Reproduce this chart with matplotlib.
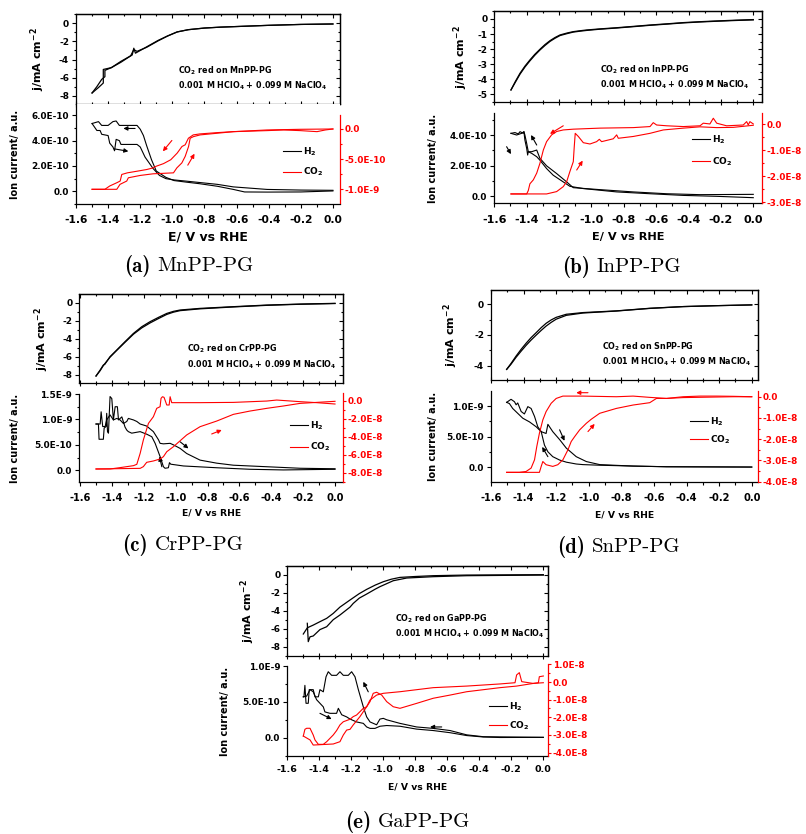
import numpy as np
import matplotlib
matplotlib.use('Agg')
import matplotlib.pyplot as plt
from matplotlib.ticker import MultipleLocator, FuncFormatter
from matplotlib.lines import Line2D

plt.rcParams.update({
    'font.family': 'DejaVu Sans', 'font.weight': 'bold', 'axes.labelweight': 'bold',
    'mathtext.fontset': 'dejavusans', 'mathtext.default': 'bf',
    'axes.unicode_minus': False, 'axes.linewidth': 0.9, 'lines.linewidth': 0.8,
})

# ---------------- data : (a) MnPP-PG ----------------
mn_cv1_E = [-1.50, -1.47, -1.44, -1.42, -1.42, -1.38, -1.32, -1.25, -1.24, -1.23, -1.16, -1.09, -1.03, -0.97, -0.90, -0.80, -0.70, -0.55, -0.40, -0.20, 0.00]
mn_cv1_j = [-7.7, -7.0, -6.2, -5.9, -5.2, -4.9, -4.2, -3.5, -2.75, -3.3, -2.6, -1.9, -1.4, -0.95, -0.7, -0.52, -0.42, -0.32, -0.22, -0.12, -0.07]
mn_cv2_E = [0.00, -0.20, -0.40, -0.55, -0.70, -0.80, -0.90, -0.97, -1.03, -1.09, -1.16, -1.22, -1.24, -1.26, -1.32, -1.38, -1.43, -1.43, -1.46, -1.50]
mn_cv2_j = [-0.07, -0.12, -0.22, -0.32, -0.42, -0.52, -0.7, -0.95, -1.4, -1.95, -2.65, -3.1, -2.9, -3.6, -4.3, -4.9, -5.1, -6.6, -7.1, -7.7]
mn_h2n_E = [0.0, -0.2, -0.41, -0.55, -0.62, -0.72, -0.83, -0.91, -0.99, -1.04, -1.10, -1.13, -1.16, -1.18, -1.20, -1.22, -1.33, -1.35, -1.37, -1.40, -1.44, -1.46, -1.50]
mn_h2n = [0.03, -0.05, -0.06, -0.05, 0.15, 0.4, 0.6, 0.72, 0.85, 1.1, 1.6, 2.5, 3.6, 4.4, 4.9, 5.2, 5.2, 5.55, 5.5, 5.2, 5.2, 5.5, 5.35]
mn_h2p_E = [-1.50, -1.47, -1.45, -1.44, -1.40, -1.39, -1.37, -1.36, -1.35, -1.33, -1.32, -1.22, -1.20, -1.17, -1.12, -1.08, -1.04, -0.99, -0.91, -0.72, -0.62, -0.41, -0.20, 0.00]
mn_h2p = [5.35, 4.8, 4.8, 4.5, 4.4, 3.8, 3.5, 3.2, 4.1, 4.0, 3.7, 3.7, 3.5, 2.7, 1.8, 1.25, 1.0, 0.9, 0.8, 0.55, 0.35, 0.15, 0.1, 0.08]
mn_co2n_E = [0.00, -0.20, -0.41, -0.62, -0.72, -0.83, -0.87, -0.90, -0.92, -0.94, -0.97, -1.01, -1.055, -1.10, -1.12, -1.16, -1.22, -1.28, -1.315, -1.325, -1.345, -1.39, -1.42, -1.50]
mn_co2n = [0.0, -0.005, -0.016, -0.044, -0.06, -0.082, -0.098, -0.153, -0.262, -0.29, -0.40, -0.51, -0.574, -0.617, -0.645, -0.672, -0.70, -0.727, -0.754, -0.863, -0.89, -0.945, -1.0, -1.0]
mn_co2p_E = [-1.50, -1.346, -1.326, -1.284, -1.274, -1.20, -1.12, -0.993, -0.972, -0.941, -0.92, -0.899, -0.889, -0.868, -0.827, -0.723, -0.619, -0.411, -0.307, -0.203, -0.099, -0.047, 0.0]
mn_co2p = [-1.0, -1.0, -0.918, -0.863, -0.809, -0.77, -0.743, -0.727, -0.645, -0.563, -0.454, -0.29, -0.153, -0.126, -0.098, -0.071, -0.044, -0.027, -0.016, -0.027, -0.044, -0.016, 0.0]
mn_h2_unit, mn_co2_unit = 1e-10, 1e-9
mn_arrows = [('l', -1.232, 4.96e-10, -1.305, 4.96e-10), ('l', -1.357, 3.34e-10, -1.274, 3.16e-10),
             ('r', -1.003, -0.19e-9, -1.059, -0.37e-9), ('r', -0.904, -0.60e-9, -0.862, -0.41e-9)]

# ---------------- data : (b) InPP-PG ----------------
in_cv1_E = [-1.497, -1.47, -1.441, -1.41, -1.38, -1.35, -1.318, -1.287, -1.256, -1.225, -1.194, -1.15, -1.112, -1.07, -1.03, -0.95, -0.844, -0.74, -0.638, -0.532, -0.432, -0.33, -0.226, -0.11, 0.0]
in_cv1_j = [-4.71, -4.15, -3.6, -3.12, -2.72, -2.35, -2.01, -1.70, -1.44, -1.23, -1.06, -0.93, -0.84, -0.78, -0.73, -0.66, -0.58, -0.49, -0.40, -0.32, -0.24, -0.18, -0.13, -0.08, -0.04]
in_cv2_E = [0.0, -0.11, -0.226, -0.33, -0.432, -0.532, -0.638, -0.74, -0.844, -0.95, -1.03, -1.07, -1.112, -1.15, -1.194, -1.225, -1.256, -1.287, -1.318, -1.35, -1.38, -1.41, -1.441, -1.47, -1.497]
in_cv2_j = [-0.06, -0.10, -0.15, -0.20, -0.26, -0.34, -0.42, -0.51, -0.60, -0.68, -0.76, -0.81, -0.87, -0.97, -1.10, -1.28, -1.49, -1.76, -2.06, -2.41, -2.78, -3.18, -3.66, -4.2, -4.71]
in_h2a_E = [0.0, -0.329, -0.535, -0.741, -0.947, -1.112, -1.153, -1.215, -1.277, -1.318, -1.338, -1.369, -1.39, -1.40, -1.411, -1.417, -1.421, -1.441, -1.452, -1.472, -1.497]
in_h2a = [0.11, 0.09, 0.15, 0.27, 0.42, 0.55, 0.93, 1.48, 1.99, 2.48, 3.03, 2.92, 2.92, 3.47, 4.02, 4.24, 4.13, 4.24, 4.09, 4.18, 4.13]
in_h2b_E = [-1.497, -1.462, -1.431, -1.417, -1.411, -1.40, -1.394, -1.39, -1.369, -1.338, -1.318, -1.277, -1.236, -1.174, -1.133, -1.05, -0.844, -0.638, -0.432, -0.226, 0.0]
in_h2b = [4.13, 4.02, 4.13, 4.24, 3.69, 3.14, 2.70, 2.92, 2.81, 2.59, 2.36, 1.81, 1.37, 0.93, 0.64, 0.49, 0.27, 0.15, 0.04, -0.02, -0.11]
in_co2n_E = [0.0, -0.021, -0.031, -0.041, -0.062, -0.165, -0.226, -0.247, -0.268, -0.309, -0.329, -0.432, -0.535, -0.597, -0.618, -0.638, -0.741, -0.947, -1.112, -1.174, -1.215, -1.246, -1.277, -1.297, -1.318, -1.338, -1.359, -1.38, -1.39, -1.40, -1.497]
in_co2n = [0.01, 0.10, -0.03, 0.10, -0.03, -0.06, 0.04, 0.23, 0.01, 0.04, -0.06, -0.09, -0.06, -0.03, 0.06, -0.09, -0.13, -0.15, -0.19, -0.22, -0.28, -0.41, -0.67, -0.99, -1.50, -1.88, -2.14, -2.29, -2.55, -2.68, -2.68]
in_co2p_E = [-1.497, -1.277, -1.215, -1.174, -1.153, -1.133, -1.112, -1.106, -1.10, -1.081, -1.05, -1.009, -0.968, -0.951, -0.937, -0.865, -0.844, -0.834, -0.741, -0.638, -0.556, -0.432, -0.329, -0.226, -0.123, 0.0]
in_co2p = [-2.68, -2.68, -2.59, -2.40, -2.21, -1.82, -1.44, -0.86, -0.35, -0.47, -0.71, -0.76, -0.67, -0.58, -0.67, -0.56, -0.41, -0.54, -0.47, -0.35, -0.22, -0.15, -0.10, -0.13, -0.12, -0.04]
in_h2_unit, in_co2_unit = 1e-10, 1e-8
in_arrows = [('l', -1.524, 3.25e-10, -1.497, 2.76e-10), ('l', -1.338, 3.36e-10, -1.373, 4.02e-10),
             ('r', -1.174, -0.06e-8, -1.256, -0.37e-8), ('r', -1.091, -1.76e-8, -1.054, -1.40e-8)]

# ---------------- data : (c) CrPP-PG ----------------
cr_cv1_E = [-1.50, -1.474, -1.454, -1.445, -1.412, -1.37, -1.318, -1.265, -1.213, -1.161, -1.108, -1.056, -1.014, -0.972, -0.847, -0.638, -0.428, -0.219, 0.0]
cr_cv1_j = [-8.15, -7.48, -6.93, -6.85, -6.0, -5.26, -4.33, -3.41, -2.67, -2.11, -1.63, -1.19, -0.96, -0.81, -0.63, -0.44, -0.26, -0.15, -0.07]
cr_cv2_E = [0.0, -0.219, -0.428, -0.638, -0.847, -0.972, -1.014, -1.056, -1.108, -1.161, -1.213, -1.265, -1.318, -1.37, -1.412, -1.454, -1.474, -1.50]
cr_cv2_j = [-0.09, -0.17, -0.29, -0.47, -0.68, -0.88, -1.05, -1.3, -1.76, -2.25, -2.8, -3.5, -4.4, -5.3, -6.05, -6.98, -7.55, -8.15]
cr_h2a_E = [-1.50, -1.485, -1.481, -1.454, -1.449, -1.437, -1.433, -1.428, -1.422, -1.412, -1.401, -1.391, -1.38, -1.366, -1.359, -1.338, -1.318, -1.307, -1.297, -1.276, -1.223, -1.182, -1.15, -1.129, -1.098, -1.077, -1.067, -1.046, -1.039, -1.031, -0.951, -0.742, -0.533, -0.324, 0.0]
cr_h2a = [0.91, 0.91, 0.61, 0.61, 0.83, 0.86, 1.12, 0.76, 0.73, 1.45, 1.41, 0.99, 1.25, 1.25, 0.99, 1.05, 0.85, 0.79, 0.76, 0.73, 0.76, 0.71, 0.66, 0.53, 0.27, 0.07, 0.04, 0.05, 0.15, 0.12, 0.085, 0.05, 0.02, 0.007, 0.02]
cr_h2b_E = [-1.50, -1.474, -1.468, -1.458, -1.443, -1.433, -1.412, -1.391, -1.37, -1.349, -1.328, -1.307, -1.297, -1.265, -1.244, -1.223, -1.182, -1.140, -1.108, -1.098, -1.077, -1.035, -1.014, -0.972, -0.931, -0.847, -0.742, -0.638, -0.428, -0.219, 0.0]
cr_h2b = [0.91, 0.91, 1.15, 0.86, 0.86, 0.99, 1.09, 0.99, 1.02, 0.99, 0.92, 0.96, 1.02, 0.99, 0.96, 0.91, 0.87, 0.76, 0.60, 0.53, 0.52, 0.53, 0.50, 0.43, 0.33, 0.20, 0.14, 0.10, 0.07, 0.04, 0.03]
cr_co2n_E = [-1.50, -1.412, -1.349, -1.265, -1.244, -1.223, -1.203, -1.171, -1.14, -1.119, -1.098, -1.092, -1.083, -1.073, -1.056, -1.041, -1.035, -1.025, -0.847, -0.638, -0.428, -0.366, -0.219, -0.115, 0.0]
cr_co2n = [-7.59, -7.59, -7.44, -7.22, -7.07, -5.85, -4.37, -2.52, -1.78, -0.85, -0.67, 0.26, 0.44, 0.37, -0.48, -0.48, 0.44, -0.22, -0.22, -0.19, -0.04, 0.07, -0.11, -0.22, -0.37]
cr_co2p_E = [-1.50, -1.223, -1.203, -1.182, -1.14, -1.098, -1.077, -1.056, -1.014, -0.931, -0.847, -0.742, -0.638, -0.533, -0.428, -0.324, -0.219, -0.115, 0.0]
cr_co2p = [-7.59, -7.52, -7.33, -6.85, -6.70, -6.48, -6.22, -5.67, -5.11, -3.81, -2.89, -2.26, -1.52, -1.15, -0.85, -0.59, -0.30, -0.19, -0.07]
cr_h2_unit, cr_co2_unit = 1e-9, 1e-8
cr_arrows = [('l', -0.972, 0.56e-9, -0.92, 0.43e-9), ('l', -1.087, 0.07e-9, -1.102, 0.27e-9),
             ('r', -0.774, -3.70e-8, -0.711, -3.26e-8)]

# ---------------- data : (d) SnPP-PG ----------------
sn_cv1_E = [-1.504, -1.477, -1.446, -1.415, -1.385, -1.354, -1.323, -1.292, -1.262, -1.231, -1.2, -1.138, -1.036, -0.831, -0.626, -0.421, -0.215, 0.0]
sn_cv1_j = [-4.24, -3.85, -3.37, -2.93, -2.54, -2.17, -1.85, -1.52, -1.24, -1.02, -0.85, -0.65, -0.54, -0.43, -0.26, -0.15, -0.09, -0.04]
sn_cv2_E = [0.0, -0.215, -0.421, -0.626, -0.831, -1.036, -1.138, -1.2, -1.231, -1.262, -1.292, -1.323, -1.354, -1.385, -1.415, -1.446, -1.477, -1.504]
sn_cv2_j = [-0.04, -0.09, -0.15, -0.27, -0.44, -0.57, -0.72, -0.97, -1.18, -1.42, -1.7, -2.01, -2.33, -2.68, -3.05, -3.45, -3.9, -4.24]
sn_h2a_E = [-1.504, -1.477, -1.456, -1.446, -1.436, -1.415, -1.395, -1.374, -1.354, -1.333, -1.313, -1.292, -1.272, -1.262, -1.251, -1.221, -1.179, -1.138, -1.077, -1.015, -0.933, -0.728, -0.523, 0.0]
sn_h2a = [1.06, 1.11, 1.07, 1.02, 1.05, 0.91, 0.87, 0.99, 0.96, 0.83, 0.66, 0.58, 0.56, 0.55, 0.70, 0.58, 0.45, 0.31, 0.17, 0.09, 0.04, 0.016, 0.005, 0.0]
sn_h2b_E = [-1.504, -1.487, -1.467, -1.436, -1.405, -1.364, -1.323, -1.292, -1.282, -1.272, -1.251, -1.221, -1.179, -1.138, -1.077, -1.036, -0.933, -0.728, -0.523, 0.0]
sn_h2b = [1.06, 1.04, 0.96, 0.88, 0.80, 0.74, 0.66, 0.58, 0.47, 0.36, 0.25, 0.17, 0.115, 0.08, 0.05, 0.04, 0.03, 0.016, 0.005, 0.0]
sn_co2n_E = [0.0, -0.113, -0.421, -0.523, -0.626, -0.728, -0.831, -1.036, -1.159, -1.2, -1.231, -1.262, -1.282, -1.303, -1.319, -1.333, -1.354, -1.385, -1.426, -1.504]
sn_co2n = [0.0, 0.0, -0.04, -0.08, -0.03, 0.03, 0.0, 0.03, 0.03, -0.08, -0.31, -0.70, -1.09, -1.72, -2.34, -2.97, -3.36, -3.52, -3.56, -3.56]
sn_co2p_E = [-1.504, -1.303, -1.292, -1.282, -1.262, -1.221, -1.19, -1.159, -1.128, -1.108, -1.087, -1.056, -1.015, -0.985, -0.933, -0.831, -0.728, -0.626, -0.585, -0.523, -0.421, -0.318, -0.215, -0.113, 0.0]
sn_co2p = [-3.56, -3.56, -3.28, -3.05, -3.20, -3.28, -3.20, -2.97, -2.50, -2.11, -1.88, -1.56, -1.25, -1.06, -0.78, -0.55, -0.39, -0.28, -0.08, -0.08, 0.0, 0.03, 0.03, 0.02, 0.0]
sn_h2_unit, sn_co2_unit = 1e-9, 1e-8
sn_arrows = [('l', -1.179, 0.61e-9, -1.149, 0.43e-9), ('l', -1.251, 0.17e-9, -1.286, 0.33e-9),
             ('r', -1.005, 0.19e-8, -1.077, 0.19e-8), ('r', -1.005, -1.64e-8, -0.964, -1.28e-8)]

# ---------------- data : (e) GaPP-PG ----------------
ga_cv1_E = [-1.5, -1.475, -1.438, -1.396, -1.354, -1.313, -1.271, -1.208, -1.15, -1.104, -1.05, -1.0, -0.95, -0.896, -0.8, -0.688, -0.479, 0.0]
ga_cv1_j = [-6.59, -5.9, -5.6, -5.22, -4.85, -4.30, -3.6, -2.81, -2.1, -1.63, -1.15, -0.78, -0.5, -0.30, -0.2, -0.11, -0.04, 0.0]
ga_cv2_E = [-1.475, -1.469, -1.458, -1.438, -1.396, -1.354, -1.313, -1.271, -1.208, -1.188, -1.15, -1.104, -1.05, -1.021, -0.938, -0.854, -0.688, -0.479, 0.0]
ga_cv2_j = [-5.4, -7.44, -6.9, -6.81, -6.1, -5.78, -5.0, -4.48, -3.6, -3.19, -2.6, -2.15, -1.6, -1.33, -0.67, -0.37, -0.22, -0.11, -0.04]
ga_h2a_E = [0.0, -0.375, -0.479, -0.583, -0.688, -0.792, -0.896, -0.979, -1.0, -1.021, -1.042, -1.083, -1.104, -1.125, -1.156, -1.177, -1.198, -1.219, -1.25, -1.271, -1.292, -1.323, -1.344, -1.358, -1.375, -1.396, -1.406, -1.427, -1.438, -1.463, -1.469, -1.483, -1.49, -1.496, -1.5]
ga_h2a = [0.005, 0.014, 0.04, 0.10, 0.13, 0.15, 0.20, 0.25, 0.27, 0.26, 0.18, 0.22, 0.29, 0.43, 0.67, 0.85, 0.92, 0.87, 0.87, 0.92, 0.87, 0.87, 0.92, 0.85, 0.64, 0.67, 0.57, 0.57, 0.67, 0.67, 0.48, 0.48, 0.73, 0.57, 0.57]
ga_h2b_E = [-1.5, -1.479, -1.458, -1.438, -1.417, -1.396, -1.375, -1.365, -1.333, -1.292, -1.281, -1.26, -1.229, -1.208, -1.167, -1.125, -1.104, -1.083, -1.052, -1.021, -0.979, -0.896, -0.792, -0.688, -0.583, -0.479, -0.375, -0.271, 0.0]
ga_h2b = [0.57, 0.58, 0.67, 0.64, 0.53, 0.48, 0.43, 0.36, 0.34, 0.34, 0.41, 0.32, 0.29, 0.26, 0.22, 0.20, 0.15, 0.13, 0.13, 0.16, 0.17, 0.16, 0.12, 0.10, 0.07, 0.03, 0.01, 0.003, 0.005]
ga_co2n_E = [0.0, -0.025, -0.031, -0.063, -0.135, -0.15, -0.167, -0.177, -0.271, -0.479, -0.688, -0.896, -1.0, -1.042, -1.083, -1.104, -1.125, -1.146, -1.167, -1.188, -1.208, -1.25, -1.271, -1.292, -1.313, -1.354, -1.375, -1.406, -1.427, -1.438, -1.458, -1.479, -1.49, -1.5]
ga_co2n = [0.34, 0.30, -0.04, -0.08, 0.02, 0.53, 0.40, -0.04, -0.11, -0.23, -0.32, -0.55, -0.64, -0.74, -1.02, -1.40, -1.49, -1.68, -1.87, -1.96, -2.11, -2.25, -2.43, -2.75, -3.0, -3.38, -3.53, -3.53, -3.28, -3.0, -2.62, -2.62, -2.68, -3.06]
ga_co2p_E = [-1.5, -1.458, -1.438, -1.313, -1.271, -1.25, -1.229, -1.208, -1.188, -1.146, -1.104, -1.083, -1.063, -1.042, -1.01, -0.979, -0.938, -0.896, -0.792, -0.688, -0.583, -0.479, -0.271, -0.167, -0.063, 0.0]
ga_co2p = [-3.06, -3.28, -3.57, -3.51, -3.38, -3.0, -2.72, -2.68, -2.43, -1.96, -1.40, -1.11, -0.64, -0.58, -0.74, -1.11, -1.40, -1.49, -1.21, -0.92, -0.74, -0.55, -0.32, -0.23, -0.08, -0.04]
ga_h2_unit, ga_co2_unit = 1e-9, 1e-8
ga_arrows = [('l', -1.396, 0.34e-9, -1.323, 0.26e-9), ('l', -1.094, 0.64e-9, -1.125, 0.78e-9),
             ('l', -0.635, 0.15e-9, -0.708, 0.15e-9)]

W, H = 806, 834
fig = plt.figure(figsize=(W / 100, H / 100), dpi=100)
RED = '#ff0000'


def rect(L, R, T, B):
    return [L / W, 1 - B / H, (R - L) / W, (B - T) / H]


def sci(v, pos):
    if abs(v) < 1e-20:
        return '0.0'
    e = int(np.floor(np.log10(abs(v)) + 1e-9))
    return f'{v / 10 ** e:.1f}E{e}'


def panel(g, name, label, cv, h2, co2, h2u, co2u, arrows):
    L, R = g['L'], g['R']
    axt = fig.add_axes(rect(L, R, g['tT'], g['tB']))
    axl = fig.add_axes(rect(L, R, g['lT'], g['lB']))
    axr = fig.add_axes(rect(L, R, g['rT'], g['rB']))
    for a in (axt, axl, axr):
        a.set_xlim(*g['xlim'])
        a.xaxis.set_major_locator(MultipleLocator(0.2))
        a.xaxis.set_minor_locator(MultipleLocator(0.1))
    # top CV panel
    axt.plot(cv[0], cv[1], color='k', lw=0.9)
    axt.plot(cv[2], cv[3], color='k', lw=0.9)
    axt.set_ylim(*g['ytop'])
    axt.yaxis.set_major_locator(MultipleLocator(g['tmaj']))
    axt.yaxis.set_minor_locator(MultipleLocator(g['tmaj'] / 2))
    axt.tick_params(axis='x', which='both', direction='inout', labelbottom=False, top=False)
    axt.tick_params(axis='x', which='major', length=5, width=0.8)
    axt.tick_params(axis='x', which='minor', length=3, width=0.8)
    axt.tick_params(axis='y', which='both', direction='out', right=False, labelsize=6.5, pad=2)
    axt.tick_params(axis='y', which='major', length=3, width=0.8)
    axt.tick_params(axis='y', which='minor', length=1.8, width=0.8)
    sx = axt.secondary_xaxis('top')
    sx.xaxis.set_major_locator(MultipleLocator(0.2)); sx.xaxis.set_minor_locator(MultipleLocator(0.1))
    sx.tick_params(which='both', direction='in', labeltop=False, width=0.8)
    sx.tick_params(which='major', length=3); sx.tick_params(which='minor', length=1.6)
    sy = axt.secondary_yaxis('right')
    sy.yaxis.set_major_locator(MultipleLocator(g['tmaj'])); sy.yaxis.set_minor_locator(MultipleLocator(g['tmaj'] / 2))
    sy.tick_params(which='both', direction='in', labelright=False, width=0.8)
    sy.tick_params(which='major', length=3); sy.tick_params(which='minor', length=1.6)
    axt.set_ylabel('j/mA cm$^{-2}$', fontsize=8)
    axt.yaxis.set_label_coords((g['jx'] - L) / (R - L), 0.5)
    axt.yaxis.label.set_va('center')
    fig.text(g['tx'] / W, 1 - g['ty'][0] / H, f'CO$_2$ red on {name}', fontsize=5.8, va='center')
    fig.text(g['tx'] / W, 1 - g['ty'][1] / H, '0.001 M HClO$_4$ + 0.099 M NaClO$_4$', fontsize=5.8, va='center')
    # lower panel, black H2
    axl.plot(h2[0], np.array(h2[1]) * h2u, color='k', lw=0.8)
    axl.plot(h2[2], np.array(h2[3]) * h2u, color='k', lw=0.8)
    axl.set_ylim(*g['ylow'])
    axl.yaxis.set_major_locator(MultipleLocator(g['lmaj']))
    axl.yaxis.set_minor_locator(MultipleLocator(g['lmaj'] / 2))
    axl.yaxis.set_major_formatter(FuncFormatter(sci))
    axl.spines['top'].set_visible(False)
    axl.spines['right'].set_visible(False)
    axl.xaxis.set_ticks_position('bottom')
    axl.yaxis.set_ticks_position('left')
    axl.tick_params(which='both', direction='out', width=0.8)
    axl.tick_params(which='major', length=3)
    axl.tick_params(which='minor', length=1.8)
    axl.tick_params(axis='y', labelsize=6.4, pad=2)
    axl.tick_params(axis='x', labelsize=g['xfs'], pad=g['xpad'])
    axl.set_xlabel('E/ V vs RHE', fontsize=g['xlfs'])
    axl.xaxis.set_label_coords(0.5, (g['lB'] - g['xly']) / (g['lB'] - g['lT']))
    axl.xaxis.label.set_va('center')
    axl.set_ylabel('Ion current/ a.u.', fontsize=7)
    axl.yaxis.set_label_coords((g['ix'] - L) / (R - L), 0.5)
    axl.yaxis.label.set_va('center')
    # red CO2 axis
    axr.patch.set_visible(False)
    axr.plot(co2[0], np.array(co2[1]) * co2u, color=RED, lw=0.8)
    axr.plot(co2[2], np.array(co2[3]) * co2u, color=RED, lw=0.8)
    axr.set_ylim(*g['yred'])
    for s in ('left', 'top', 'bottom'):
        axr.spines[s].set_visible(False)
    axr.spines['right'].set_color(RED)
    axr.xaxis.set_visible(False)
    axr.yaxis.set_ticks_position('right')
    axr.yaxis.set_major_locator(MultipleLocator(g['rmaj']))
    axr.yaxis.set_minor_locator(MultipleLocator(g['rmaj'] / 2))
    axr.yaxis.set_major_formatter(FuncFormatter(sci))
    axr.tick_params(which='both', direction='out', colors=RED, labelsize=6.4, pad=0.8, width=0.8)
    axr.tick_params(which='major', length=2.5)
    axr.tick_params(which='minor', length=1.5)
    # arrows
    for side, x0, y0, x1, y1 in arrows:
        a = axl if side == 'l' else axr
        c = 'k' if side == 'l' else RED
        a.annotate('', xy=(x1, y1), xytext=(x0, y0),
                   arrowprops=dict(arrowstyle='-|>', color=c, lw=0.8, mutation_scale=6,
                                   shrinkA=0, shrinkB=0))
    # legend
    lx, ly1, ly2 = g['leg']
    axr.legend(handles=[Line2D([], [], color='k', lw=0.8), Line2D([], [], color=RED, lw=0.8)],
               labels=['H$_2$', 'CO$_2$'], loc='upper left',
               bbox_to_anchor=(lx / W, 1 - (ly1 - 6.5) / H), bbox_transform=fig.transFigure,
               frameon=False, borderpad=0, borderaxespad=0, handlelength=2.0,
               handletextpad=0.2, labelspacing=(ly2 - ly1 - 11) / 9.0,
               prop={'size': 6.5, 'weight': 'bold'})
    # caption
    cx, cy = g['cap']
    fig.text(cx / W, 1 - cy / H, name, family='cmr10', fontsize=15, va='center', ha='left',
             fontweight='normal')
    fig.text((cx - 7) / W, 1 - cy / H, label, family='cmb10', fontsize=15, va='center', ha='right',
             fontweight='normal')


geo_a = dict(L=76, R=340, tT=14.3, tB=104, lT=104, lB=204, rT=115, rB=203.3, xlim=(-1.6, 0.044),
             ytop=(-8.92, 1.0), ylow=(-1.0e-10, 6.89e-10), yred=(-1.232e-9, 0.232e-9),
             tmaj=2, lmaj=2e-10, rmaj=5e-10, jx=38, ix=15, xly=237, xfs=7.7, xlfs=9, xpad=5,
             tx=178, ty=(70.3, 85.7), leg=(283.3, 151.7, 170.7), cap=(157, 266))
geo_b = dict(L=494.3, R=761.7, tT=11, tB=102.3, lT=113, lB=203, rT=113.3, rB=203.3, xlim=(-1.6, 0.052),
             ytop=(-5.53, 0.53), ylow=(-0.46e-10, 5.47e-10), yred=(-3.04e-8, 0.42e-8),
             tmaj=1, lmaj=2e-10, rmaj=1e-8, jx=461, ix=433, xly=237, xfs=8, xlfs=8.2, xpad=5.5,
             tx=600, ty=(70, 85), leg=(691.7, 140, 160), cap=(596.7, 267))
geo_c = dict(L=79.3, R=343.3, tT=294, tB=383.3, lT=394, lB=482.3, rT=393.3, rB=482.3, xlim=(-1.605, 0.052),
             ytop=(-8.96, 0.97), ylow=(-0.236e-9, 1.5e-9), yred=(-9.07e-8, 0.82e-8),
             tmaj=2, lmaj=5e-10, rmaj=2e-8, jx=42, ix=15, xly=513, xfs=7.1, xlfs=6.7, xpad=5,
             tx=186.7, ty=(348.3, 365), leg=(290, 425.7, 445.7), cap=(155, 545))
geo_d = dict(L=491, R=758.3, tT=290, tB=380, lT=391, lB=481.7, rT=391, rB=481.7, xlim=(-1.6, 0.04),
             ytop=(-4.93, 0.93), ylow=(-0.24e-9, 1.246e-9), yred=(-4.0e-8, 0.27e-8),
             tmaj=2, lmaj=5e-10, rmaj=1e-8, jx=451, ix=433, xly=515, xfs=7.1, xlfs=6.7, xpad=5.2,
             tx=602.3, ty=(346.7, 361.7), leg=(690, 421.7, 438.3), cap=(591.7, 547))
geo_e = dict(L=287.3, R=548.3, tT=565.7, tB=655.7, lT=666, lB=756, rT=664, rB=756, xlim=(-1.6, 0.031),
             ytop=(-9.0, 1.0), ylow=(-0.255e-9, 1.0e-9), yred=(-4.19e-8, 1.02e-8),
             tmaj=2, lmaj=5e-10, rmaj=1e-8, jx=248, ix=225, xly=787, xfs=6.8, xlfs=6.7, xpad=3.6,
             tx=395, ty=(618.3, 633.3), leg=(489, 706.7, 724), cap=(378.3, 822))

panel(geo_a, 'MnPP-PG', '(a)', (mn_cv1_E, mn_cv1_j, mn_cv2_E, mn_cv2_j),
      (mn_h2n_E, mn_h2n, mn_h2p_E, mn_h2p), (mn_co2n_E, mn_co2n, mn_co2p_E, mn_co2p),
      mn_h2_unit, mn_co2_unit, mn_arrows)
panel(geo_b, 'InPP-PG', '(b)', (in_cv1_E, in_cv1_j, in_cv2_E, in_cv2_j),
      (in_h2a_E, in_h2a, in_h2b_E, in_h2b), (in_co2n_E, in_co2n, in_co2p_E, in_co2p),
      in_h2_unit, in_co2_unit, in_arrows)
panel(geo_c, 'CrPP-PG', '(c)', (cr_cv1_E, cr_cv1_j, cr_cv2_E, cr_cv2_j),
      (cr_h2a_E, cr_h2a, cr_h2b_E, cr_h2b), (cr_co2n_E, cr_co2n, cr_co2p_E, cr_co2p),
      cr_h2_unit, cr_co2_unit, cr_arrows)
panel(geo_d, 'SnPP-PG', '(d)', (sn_cv1_E, sn_cv1_j, sn_cv2_E, sn_cv2_j),
      (sn_h2a_E, sn_h2a, sn_h2b_E, sn_h2b), (sn_co2n_E, sn_co2n, sn_co2p_E, sn_co2p),
      sn_h2_unit, sn_co2_unit, sn_arrows)
panel(geo_e, 'GaPP-PG', '(e)', (ga_cv1_E, ga_cv1_j, ga_cv2_E, ga_cv2_j),
      (ga_h2a_E, ga_h2a, ga_h2b_E, ga_h2b), (ga_co2n_E, ga_co2n, ga_co2p_E, ga_co2p),
      ga_h2_unit, ga_co2_unit, ga_arrows)

fig.savefig('out.png', dpi=100)
